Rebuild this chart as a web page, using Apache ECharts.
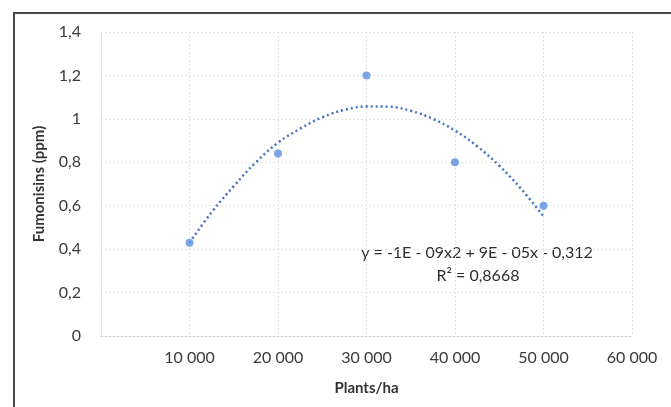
<!DOCTYPE html>
<html>
<head>
<meta charset="utf-8">
<script src="https://cdn.jsdelivr.net/npm/echarts@6/dist/echarts.min.js"></script>
<style>
  html, body { margin: 0; padding: 0; background: #fff; }
  #chart { width: 671px; height: 407px; }
</style>
</head>
<body>
<div id="chart"></div>
<script>
// measured points
const plants = [10000, 20000, 30000, 40000, 50000]
const fumonisins = [0.43, 0.84, 1.2, 0.8, 0.6]
// trend line
const trendX = [10000, 12500, 15000, 17500, 20000, 22500, 25000, 27500, 30000,
  32500, 35000, 37500, 40000, 42500, 45000, 47500, 50000]
const trendY = [0.43, 0.57, 0.69, 0.8, 0.89, 0.955, 1.007, 1.041, 1.057,
  1.056, 1.037, 1.0, 0.946, 0.874, 0.784, 0.676, 0.551]
const equationText = 'y = -1E - 09x2 + 9E - 05x - 0,312'
const r2Text = 'R² = 0,8668'

const chart = echarts.init(document.getElementById('chart'))

const font = 'Lato, "Open Sans", sans-serif'
const gridLine = { show: true, lineStyle: { color: '#e4e4e4', type: [2, 2], width: 1 } }

let option = {
  animation: false,
  grid: { left: 101, right: 39, top: 32, bottom: 71 },
  graphic: [
    {
      type: 'rect',
      shape: { x: 14, y: 13, width: 700, height: 430 },
      style: { fill: 'none', stroke: '#4a4a4a', lineWidth: 2 },
      silent: true
    },
    {
      type: 'text',
      x: 477, y: 253,
      style: { text: equationText, font: '16px ' + font, fill: '#2e2e2e', align: 'center', verticalAlign: 'middle' }
    },
    {
      type: 'text',
      x: 478, y: 276,
      style: { text: r2Text, font: '16px ' + font, fill: '#2e2e2e', align: 'center', verticalAlign: 'middle' }
    }
  ],
  xAxis: {
    type: 'value',
    min: 0, max: 60000, interval: 10000,
    name: 'Plants/ha',
    nameLocation: 'middle',
    nameGap: 45,
    nameTextStyle: { fontFamily: font, fontSize: 15, fontWeight: 'bold', color: '#333' },
    axisLine: { show: true, lineStyle: { color: '#d0d0d0', type: [2, 2] } },
    axisTick: { show: false },
    splitLine: gridLine,
    axisLabel: {
      fontFamily: font, fontSize: 16, color: '#3a3a3a', margin: 14,
      formatter: v => v === 0 ? '' : String(v).replace(/\B(?=(\d{3})+(?!\d))/g, ' ')
    }
  },
  yAxis: {
    type: 'value',
    min: 0, max: 1.4, interval: 0.2,
    name: 'Fumonisins (ppm)',
    nameLocation: 'middle',
    nameGap: 54,
    nameTextStyle: { fontFamily: font, fontSize: 15, fontWeight: 'bold', color: '#333' },
    axisLine: { show: true, lineStyle: { color: '#e0e0e0', type: [2, 2] } },
    axisTick: { show: false },
    splitLine: gridLine,
    axisLabel: {
      fontFamily: font, fontSize: 16, color: '#3a3a3a', margin: 20,
      formatter: v => String(Math.round(v * 10) / 10).replace('.', ',')
    }
  },
  series: [
    {
      type: 'line',
      data: trendX.map((x, i) => [x, trendY[i]]),
      smooth: 0.4,
      symbol: 'none',
      lineStyle: { color: '#4472c4', width: 2.5, type: [2, 3] },
      z: 2
    },
    {
      type: 'scatter',
      data: plants.map((x, i) => [x, fumonisins[i]]),
      symbolSize: 8,
      itemStyle: { color: '#5b8ee0' },
      z: 3
    }
  ]
}

chart.setOption(option)
</script>
</body>
</html>
